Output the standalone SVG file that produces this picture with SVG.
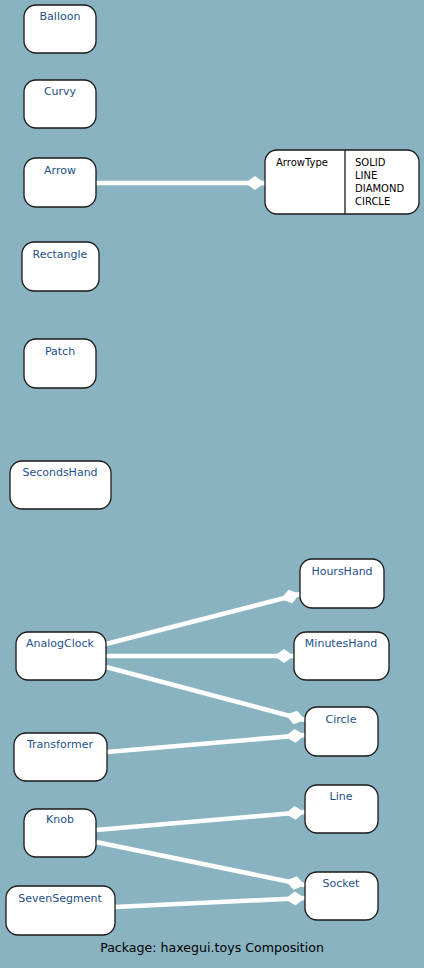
<svg xmlns="http://www.w3.org/2000/svg" width="424" height="968" viewBox="0 0 424 968">
<style>
.n{fill:#fff;stroke:#1a1a1a;stroke-width:1.3}
.t{font-family:"DejaVu Sans",sans-serif;font-size:11px;fill:#1d4f8a;text-anchor:middle}
.k{font-family:"DejaVu Sans",sans-serif;font-size:10px;fill:#000}
.c{stroke:#fff;stroke-width:4.5;fill:none;marker-end:url(#dia)}
</style>
<defs>
<marker id="dia" markerUnits="userSpaceOnUse" viewBox="0 -8 22 16" refX="21" refY="0" markerWidth="22" markerHeight="16" orient="auto">
<path d="M1,0 L11,-7 L21,0 L11,7 Z" fill="#fff"/>
</marker>
</defs>
<rect width="424" height="968" fill="#89b3c1"/>
<g id="connectors">
<line class="c" x1="96" y1="183" x2="265" y2="183"/>
<line class="c" x1="106" y1="644" x2="300" y2="594"/>
<line class="c" x1="106" y1="656" x2="294" y2="656"/>
<line class="c" x1="106" y1="667" x2="305" y2="720"/>
<line class="c" x1="107" y1="752" x2="305" y2="735"/>
<line class="c" x1="96" y1="830" x2="305" y2="812"/>
<line class="c" x1="96" y1="842" x2="305" y2="885"/>
<line class="c" x1="115" y1="907" x2="305" y2="898"/>
</g>
<g id="Balloon"><rect class="n" x="24" y="5" width="72" height="48" rx="12"/><text class="t" x="60" y="20">Balloon</text></g>
<g id="Curvy"><rect class="n" x="24" y="80" width="72" height="48" rx="12"/><text class="t" x="60" y="95">Curvy</text></g>
<g id="Arrow"><rect class="n" x="24" y="158" width="72" height="49" rx="12"/><text class="t" x="60" y="174">Arrow</text></g>
<g id="ArrowType"><rect class="n" x="265" y="150" width="154" height="64" rx="12"/><line x1="345" y1="150" x2="345" y2="214" stroke="#1a1a1a" stroke-width="1.3"/>
<text class="k" x="276" y="166">ArrowType</text>
<text class="k" x="355" y="166">SOLID</text>
<text class="k" x="355" y="179">LINE</text>
<text class="k" x="355" y="192">DIAMOND</text>
<text class="k" x="355" y="205">CIRCLE</text></g>
<g id="Rectangle"><rect class="n" x="22" y="242" width="77" height="49" rx="12"/><text class="t" x="60" y="258">Rectangle</text></g>
<g id="Patch"><rect class="n" x="24" y="339" width="72" height="49" rx="12"/><text class="t" x="60" y="355">Patch</text></g>
<g id="SecondsHand"><rect class="n" x="10" y="461" width="101" height="48" rx="12"/><text class="t" x="60" y="476">SecondsHand</text></g>
<g id="HoursHand"><rect class="n" x="300" y="559" width="84" height="49" rx="12"/><text class="t" x="342" y="575">HoursHand</text></g>
<g id="AnalogClock"><rect class="n" x="16" y="632" width="90" height="48" rx="12"/><text class="t" x="60" y="647">AnalogClock</text></g>
<g id="MinutesHand"><rect class="n" x="294" y="632" width="95" height="48" rx="12"/><text class="t" x="341" y="647">MinutesHand</text></g>
<g id="Circle"><rect class="n" x="305" y="707" width="73" height="49" rx="12"/><text class="t" x="341" y="723">Circle</text></g>
<g id="Transformer"><rect class="n" x="14" y="733" width="93" height="48" rx="12"/><text class="t" x="60" y="748">Transformer</text></g>
<g id="Line"><rect class="n" x="305" y="785" width="73" height="48" rx="12"/><text class="t" x="341" y="800">Line</text></g>
<g id="Knob"><rect class="n" x="24" y="809" width="72" height="48" rx="12"/><text class="t" x="60" y="823">Knob</text></g>
<g id="Socket"><rect class="n" x="305" y="872" width="73" height="48" rx="12"/><text class="t" x="341" y="887">Socket</text></g>
<g id="SevenSegment"><rect class="n" x="6" y="886" width="109" height="49" rx="12"/><text class="t" x="60" y="902">SevenSegment</text></g>
<text x="212" y="952" font-family="DejaVu Sans, sans-serif" font-size="12.6" fill="#000" text-anchor="middle">Package: haxegui.toys Composition</text>
</svg>
